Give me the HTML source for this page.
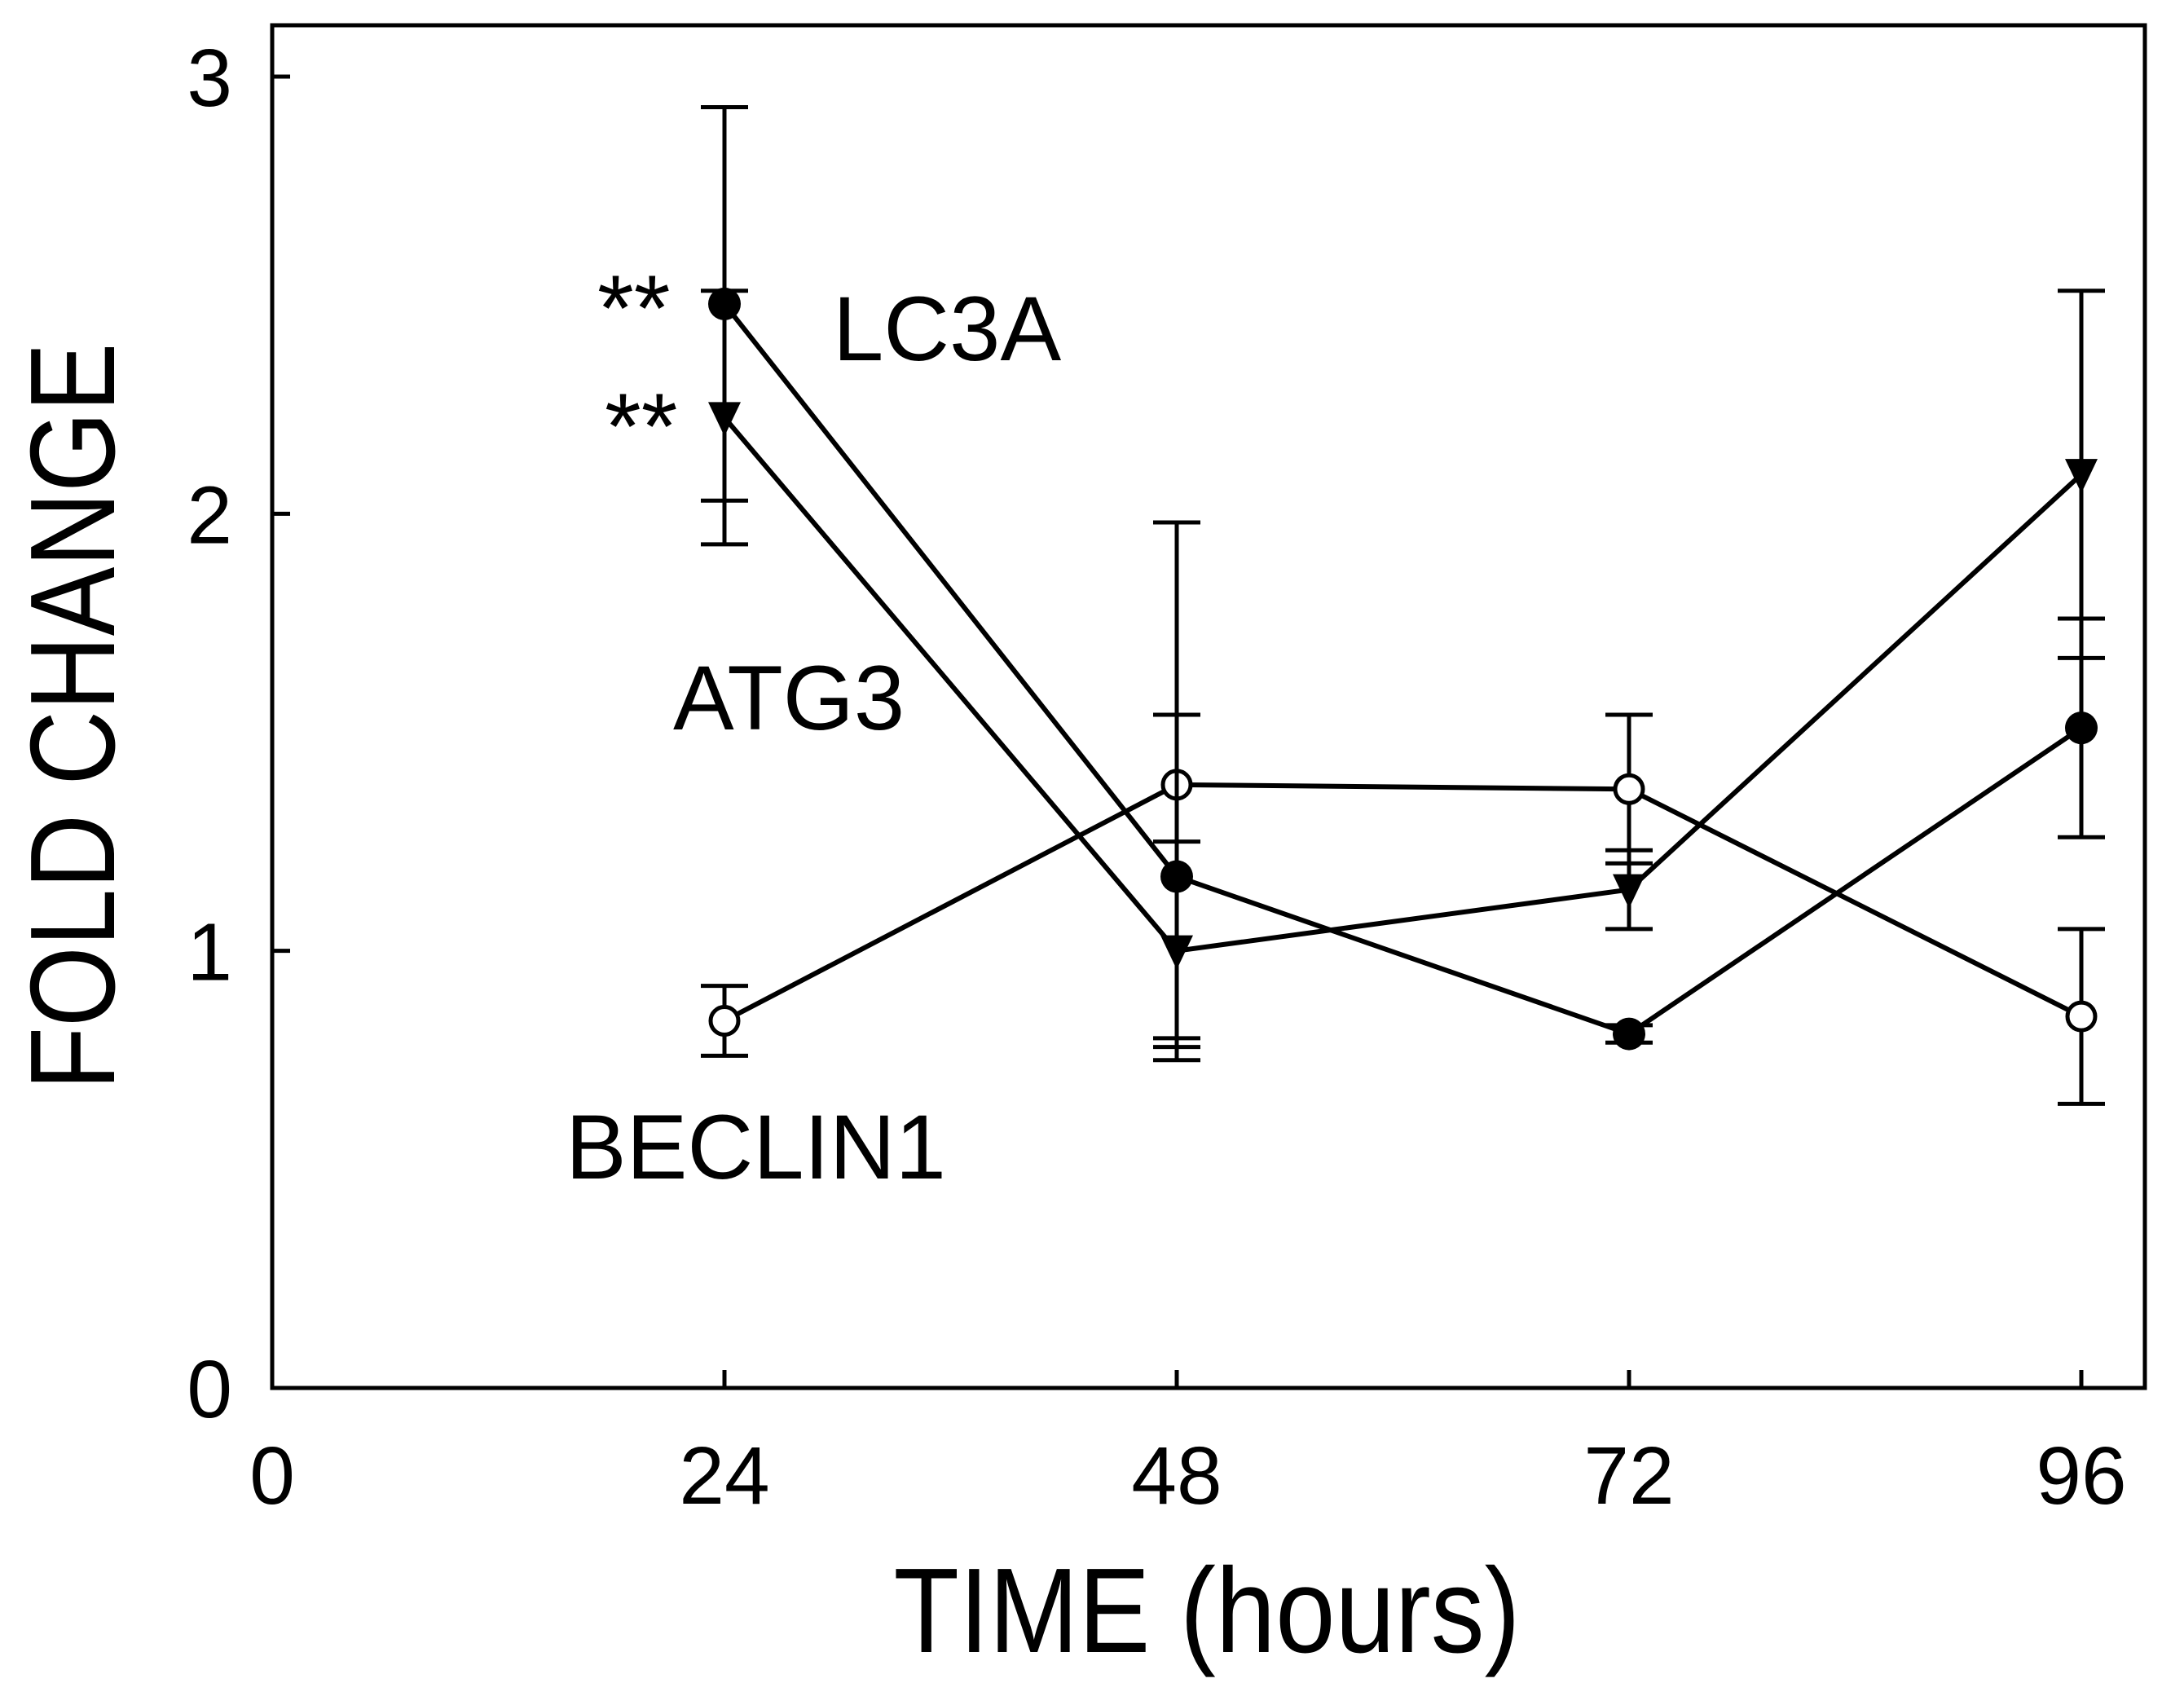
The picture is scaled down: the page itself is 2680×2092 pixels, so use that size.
<!DOCTYPE html>
<html><head><meta charset="utf-8"><style>
html,body{margin:0;padding:0;background:#fff;}
svg{display:block;font-family:"Liberation Sans",Arial,sans-serif;}
</style></head><body>
<svg id="chart" width="2680" height="2092" viewBox="0 0 2680 2092" xmlns="http://www.w3.org/2000/svg">
<rect x="334" y="31" width="2298" height="1672" fill="none" stroke="#000" stroke-width="5"/>
<g id="axes"></g>
<g id="series"></g>
<text x="1481" y="2027" font-size="148" text-anchor="middle" textLength="769" lengthAdjust="spacingAndGlyphs">TIME (hours)</text>
<text transform="translate(140,879) rotate(-90)" font-size="148" text-anchor="middle" textLength="917" lengthAdjust="spacingAndGlyphs">FOLD CHANGE</text>
<text x="1022" y="442" font-size="112">LC3A</text>
<text x="826" y="895" font-size="112">ATG3</text>
<text x="694" y="1446" font-size="112">BECLIN1</text>
<text x="733" y="418" font-size="115">**</text>
<text x="742" y="563" font-size="115">**</text>
</svg>
<script>
const times = [24, 48, 72, 96];
const xTicks = [0, 24, 48, 72, 96];
const yTicks = [0, 1, 2, 3];
const lc3aValues = [2.48, 1.17, 0.81, 1.51];
const lc3aErrors = [0.45, 0.37, 0.02, 0.25];
const atg3Values = [2.22, 1.00, 1.14, 2.09];
const atg3Errors = [0.29, 0.25, 0.09, 0.42];
const beclinValues = [0.84, 1.38, 1.37, 0.85];
const beclinErrors = [0.08, 0.60, 0.17, 0.20];

const NS = "http://www.w3.org/2000/svg";
const X0 = 334, XS = (2555 - 890) / 72;
const Y0 = 1703, YS = (1703 - 94) / 3;
function xs(v){ return X0 + v * XS; }
function ys(v){ return Y0 - v * YS; }
function mk(tag, attrs, parent){
  const e = document.createElementNS(NS, tag);
  for (const k in attrs) e.setAttribute(k, attrs[k]);
  parent.appendChild(e);
  return e;
}
const axes = document.getElementById('axes');
const series = document.getElementById('series');

xTicks.forEach(t => {
  if (t > 0) {
    const l = mk('line', {x1: xs(t), x2: xs(t), y1: Y0, y2: Y0 - 22, stroke: '#000', 'stroke-width': 5}, axes);
    
    
  }
  const tx = mk('text', {x: xs(t), y: 1845, 'font-size': 100, 'text-anchor': 'middle'}, axes);
  tx.textContent = t;
  
  
});
yTicks.forEach(t => {
  if (t > 0) {
    const l = mk('line', {x1: X0, x2: X0 + 22, y1: ys(t), y2: ys(t), stroke: '#000', 'stroke-width': 5}, axes);
    
    
  }
  const tx = mk('text', {x: 285, y: ys(t) + 36, 'font-size': 100, 'text-anchor': 'end'}, axes);
  tx.textContent = t;
  
  
});

function drawSeries(name, vals, errs, marker){
  const g = mk('g', {}, series);
  
  
  vals.forEach((v, i) => {
    const x = xs(times[i]);
    const hi = ys(v + errs[i]), lo = ys(v - errs[i]);
    const eb = mk('path', {d: `M${x},${hi}V${lo}M${x-29},${hi}H${x+29}M${x-29},${lo}H${x+29}`, stroke: '#000', 'stroke-width': 5, fill: 'none'}, g);
    
    
  });
  const pts = vals.map((v, i) => xs(times[i]) + ',' + ys(v)).join(' ');
  const pl = mk('polyline', {points: pts, stroke: '#000', 'stroke-width': 6, fill: 'none'}, g);
  
  
  vals.forEach((v, i) => {
    const x = xs(times[i]), y = ys(v);
    let m;
    if (marker === 'tri') {
      m = mk('path', {d: `M${x-20},${y-19}H${x+20}L${x},${y+23}Z`, fill: '#000'}, g);
    } else if (marker === 'filled') {
      m = mk('circle', {cx: x, cy: y, r: 20, fill: '#000'}, g);
    } else {
      m = mk('circle', {cx: x, cy: y, r: 17, fill: '#fff', stroke: '#000', 'stroke-width': 5}, g);
    }
    
    
  });
}
drawSeries('beclin1', beclinValues, beclinErrors, 'open');
drawSeries('atg3', atg3Values, atg3Errors, 'tri');
drawSeries('lc3a', lc3aValues, lc3aErrors, 'filled');
</script>
</body></html>
